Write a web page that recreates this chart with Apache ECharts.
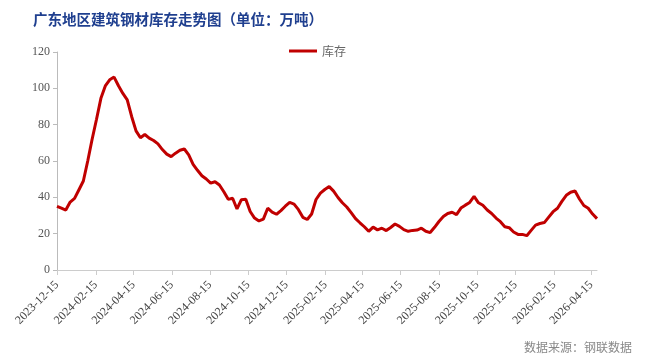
<!DOCTYPE html>
<html>
<head>
<meta charset="utf-8">
<script src="https://cdn.jsdelivr.net/npm/echarts@6/dist/echarts.min.js"></script>
<style>
html,body{margin:0;padding:0;background:#fff;}
#chart{width:654px;height:360px;}
</style>
</head>
<body>
<div id="chart"></div>
<script>
// Weekly observations starting from this date
var startDate = '2023-12-15';
var seriesName = '库存';
var inventory = [
  35, 34, 33, 37.4, 39.4, 44.2, 49, 60, 72, 83,
  94.5, 101.3, 104.7, 106.2, 101.4, 97.2, 93.7, 84.5, 76.6, 72.8,
  74.6, 72.6, 71.3, 69.4, 66.3, 63.8, 62.4, 64.3, 65.9, 66.6,
  63.4, 58.2, 54.9, 51.9, 50.1, 47.8, 48.6, 46.8, 43.1, 38.9,
  39.5, 33.6, 38.7, 39, 32.2, 28.6, 27, 28, 34, 31.9,
  30.7, 32.7, 35.1, 37.2, 36.3, 33.2, 29, 27.8, 30.8, 38.8,
  42.3, 44.3, 45.9, 43.4, 39.9, 37, 34.7, 31.6, 28.3, 26,
  23.8, 21.3, 23.6, 22.1, 23, 21.7, 23.4, 25.3, 24, 22.2,
  21.3, 21.8, 22, 23, 21.3, 20.6, 23.5, 26.7, 29.4, 31.1,
  31.8, 30.5, 34.1, 35.7, 37.2, 40.5, 37, 35.6, 33, 31.1,
  28.6, 26.6, 23.8, 23.3, 20.9, 19.6, 19.6, 18.9, 21.8, 24.7,
  25.6, 26.1, 29.1, 32.1, 34, 37.8, 41.1, 42.8, 43.5, 39.1,
  35.5, 34, 30.8, 28.3
];
var tickLabels = [
  '2023-12-15','2024-02-15','2024-04-15','2024-06-15','2024-08-15',
  '2024-10-15','2024-12-15','2025-02-15','2025-04-15','2025-06-15',
  '2025-08-15','2025-10-15','2025-12-15','2026-02-15','2026-04-15'
];
var yTicks = [0, 20, 40, 60, 80, 100, 120];

var DAY = 86400000;
function dayOf(s) {
  return Math.round((Date.parse(s + 'T00:00:00Z') - Date.parse(startDate + 'T00:00:00Z')) / DAY);
}
var points = inventory.map(function (v, i) { return [i * 7, v]; });
var tickDays = tickLabels.map(dayOf);
var lastDay = (inventory.length - 1) * 7;

var chart = echarts.init(document.getElementById('chart'), null, {renderer: 'canvas'});
chart.setOption({
  backgroundColor: '#ffffff',
  animation: false,
  title: {
    text: '广东地区建筑钢材库存走势图（单位：万吨）',
    left: 28,
    top: 7,
    textStyle: {
      color: '#1f3f8f',
      fontSize: 14.5,
      fontWeight: 'bold',
      fontFamily: '"Noto Sans CJK SC", sans-serif'
    }
  },
  legend: {
    left: 284,
    top: 40,
    itemWidth: 28,
    itemHeight: 14,
    itemGap: 6,
    textStyle: {color: '#666', fontSize: 12, fontFamily: '"Noto Sans CJK SC", sans-serif'},
    data: [{name: seriesName, icon: 'path://M0,6 L28,6 L28,9 L0,9 Z'}]
  },
  grid: {left: 57, right: 57, top: 52, bottom: 90, containLabel: false},
  xAxis: {
    type: 'value',
    min: 0,
    max: lastDay,
    splitLine: {show: false},
    axisLine: {show: true, lineStyle: {color: '#cccccc', width: 1}},
    axisTick: {show: true, customValues: tickDays, length: 5, lineStyle: {color: '#cccccc'}},
    axisLabel: {
      customValues: tickDays,
      rotate: 45,
      margin: 13,
      color: '#444',
      fontSize: 12,
      fontFamily: '"Liberation Serif", serif',
      formatter: function (v) {
        var i = tickDays.indexOf(Math.round(v));
        return i >= 0 ? tickLabels[i] : '';
      }
    }
  },
  yAxis: {
    type: 'value',
    min: yTicks[0],
    max: yTicks[yTicks.length - 1],
    interval: yTicks[1] - yTicks[0],
    splitLine: {show: false},
    axisLine: {show: true, lineStyle: {color: '#bbbbbb', width: 1}},
    axisTick: {show: true, length: 4, lineStyle: {color: '#bbbbbb'}},
    axisLabel: {
      color: '#555',
      fontSize: 12,
      margin: 7,
      fontFamily: '"Liberation Serif", serif'
    }
  },
  series: [{
    name: seriesName,
    type: 'line',
    data: points,
    showSymbol: false,
    symbol: 'none',
    lineStyle: {color: '#c00000', width: 3},
    itemStyle: {color: '#c00000'}
  }],
  graphic: [{
    type: 'text',
    right: 22,
    bottom: 7,
    style: {
      text: '数据来源：钢联数据',
      fill: '#888',
      fontSize: 12,
      fontFamily: '"Noto Sans CJK SC", sans-serif'
    }
  }]
});
</script>
</body>
</html>
